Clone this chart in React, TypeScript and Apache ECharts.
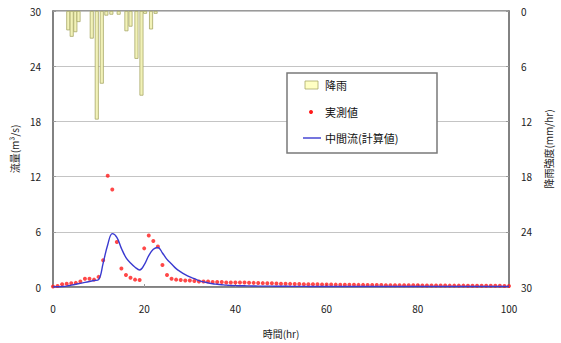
import React, { useEffect, useRef } from "react";
import * as echarts from "echarts";

const hours: number[] = Array.from({ length: 101 }, (_, i) => i);

const rainX: number[] = [3.35, 4.1, 4.9, 5.6, 8.5, 9.6, 10.7, 11.7, 12.8, 14.4, 16.1, 17.0, 18.3, 19.4, 20.2, 21.5, 22.5];
const rainY: number[] = [2.1, 2.8, 2.3, 1.2, 3.0, 11.8, 7.9, 0.5, 0.4, 0.4, 2.2, 1.7, 5.2, 9.2, 0.3, 2.0, 0.3];

const observed: number[] = [
  0.05, 0.1, 0.3, 0.35, 0.4, 0.45, 0.6, 0.9, 0.9, 0.8,
  1.1, 2.9, 12.1, 10.6, 4.9, 2.0, 1.3, 1.0, 0.8, 0.75,
  4.2, 5.6, 5.0, 4.4, 2.4, 1.3, 0.9, 0.8, 0.75, 0.7,
  0.7, 0.65, 0.6, 0.6, 0.6, 0.55, 0.55, 0.55, 0.5, 0.5,
  0.5, 0.5, 0.48, 0.46, 0.45, 0.44, 0.42, 0.4, 0.4, 0.38,
  0.36, 0.35, 0.34, 0.33, 0.32, 0.31, 0.3, 0.3, 0.29, 0.28,
  0.27, 0.27, 0.26, 0.25, 0.25, 0.24, 0.24, 0.23, 0.23, 0.22,
  0.22, 0.21, 0.21, 0.2, 0.2, 0.2, 0.19, 0.19, 0.18, 0.18,
  0.18, 0.17, 0.17, 0.17, 0.16, 0.16, 0.16, 0.15, 0.15, 0.15,
  0.15, 0.14, 0.14, 0.14, 0.14, 0.13, 0.13, 0.13, 0.13, 0.12,
  0.12,
];

const interflow: number[] = [
  0, 0.02, 0.05, 0.1, 0.2, 0.3, 0.4, 0.5, 0.6, 0.7,
  0.8, 2.6, 4.6, 5.8, 5.4, 4.2, 3.2, 2.6, 2.15, 1.85,
  2.4, 3.4, 4.1, 4.3, 3.7, 3.0, 2.5, 2.0, 1.65, 1.35,
  1.1, 0.9, 0.7, 0.55, 0.45, 0.35, 0.3, 0.25, 0.2, 0.17,
  0.15, 0.14, 0.13, 0.12, 0.11, 0.1, 0.1, 0.09, 0.09, 0.08,
  0.08, 0.08, 0.07, 0.07, 0.07, 0.07, 0.06, 0.06, 0.06, 0.06,
  0.06, 0.06, 0.05, 0.05, 0.05, 0.05, 0.05, 0.05, 0.05, 0.05,
  0.05, 0.05, 0.05, 0.05, 0.05, 0.05, 0.05, 0.05, 0.05, 0.05,
  0.05, 0.05, 0.05, 0.05, 0.05, 0.05, 0.05, 0.05, 0.05, 0.05,
  0.05, 0.05, 0.05, 0.05, 0.05, 0.05, 0.05, 0.05, 0.05, 0.05,
  0.05,
];

const FONT = "'Noto Sans CJK JP', 'Noto Sans', sans-serif";

export default function App() {
  const ref = useRef<HTMLDivElement>(null);
  useEffect(() => {
    if (!ref.current) return;
    const chart = echarts.init(ref.current, null, { renderer: "svg" });
    const axisLabel = { color: "#222", fontSize: 10, fontFamily: FONT };
    chart.setOption({
      animation: false,
      textStyle: { fontFamily: FONT },
      grid: {
        left: 53, right: 45, top: 11, bottom: 51,
        show: true, borderColor: "#7a7a7a", borderWidth: 1.5, backgroundColor: "#fff",
      },
      xAxis: {
        type: "value", min: 0, max: 100, interval: 20,
        name: "時間(hr)", nameLocation: "middle", nameGap: 41,
        nameTextStyle: { color: "#222", fontSize: 10, fontFamily: FONT },
        axisLine: { show: true, lineStyle: { color: "#7a7a7a", width: 1.5 } },
        axisTick: { show: true, inside: true, length: 3, lineStyle: { color: "#999" } },
        axisLabel: { ...axisLabel, margin: 16 },
        splitLine: { show: false },
      },
      yAxis: [
        {
          type: "value", min: 0, max: 30, interval: 6,
          name: "流量(m³/s)", nameLocation: "middle", nameGap: 32, nameRotate: 90,
          nameTextStyle: { color: "#222", fontSize: 10, fontFamily: FONT },
          axisLine: { show: true, lineStyle: { color: "#7a7a7a", width: 1.5 } },
          axisTick: { show: true, inside: true, length: 3, lineStyle: { color: "#999" } },
          axisLabel: { ...axisLabel, margin: 12 },
          splitLine: { show: true, lineStyle: { color: "#c4c4c4", width: 1.2 } },
        },
        {
          type: "value", min: 0, max: 30, interval: 6, inverse: true, position: "right",
          name: "降雨強度(mm/hr)", nameLocation: "middle", nameGap: 30, nameRotate: 90,
          nameTextStyle: { color: "#222", fontSize: 10, fontFamily: FONT },
          axisLine: { show: true, lineStyle: { color: "#7a7a7a", width: 1.5 } },
          axisTick: { show: true, inside: true, length: 3, lineStyle: { color: "#999" } },
          axisLabel: { ...axisLabel, margin: 12 },
          splitLine: { show: false },
        },
      ],
      series: [
        {
          name: "降雨", type: "bar", yAxisIndex: 1, barWidth: 4,
          data: rainX.map((x, i) => [x, rainY[i]]),
          itemStyle: { color: "#f2f2b8", borderColor: "#a8a868", borderWidth: 0.8 },
        },
        {
          name: "中間流(計算値)", type: "line", yAxisIndex: 0, smooth: 0.4, symbol: "none",
          data: hours.map((h, i) => [h, interflow[i]]),
          lineStyle: { color: "#3a3ad0", width: 1.4 },
        },
        {
          name: "実測値", type: "scatter", yAxisIndex: 0, symbolSize: 4,
          data: hours.map((h, i) => [h, observed[i]]),
          itemStyle: { color: "#ff1a1a" },
        },
      ],
      graphic: [
        { type: "rect", shape: { x: 287, y: 73, width: 150, height: 80 }, style: { fill: "#fff", stroke: "#7a7a7a", lineWidth: 1.5 }, z: 10 },
        { type: "rect", shape: { x: 305, y: 81, width: 13, height: 8 }, style: { fill: "#ffffc4", stroke: "#a8a868", lineWidth: 0.8 }, z: 11 },
        { type: "text", x: 325, y: 85, style: { text: "降雨", fill: "#111", fontSize: 11, fontFamily: FONT, verticalAlign: "middle" }, z: 11 },
        { type: "circle", shape: { cx: 311, cy: 112, r: 2 }, style: { fill: "#ff1a1a" }, z: 11 },
        { type: "text", x: 325, y: 112, style: { text: "実測値", fill: "#111", fontSize: 11, fontFamily: FONT, verticalAlign: "middle" }, z: 11 },
        { type: "line", shape: { x1: 303, y1: 138, x2: 321, y2: 138 }, style: { stroke: "#3a3ad0", lineWidth: 1.4 }, z: 11 },
        { type: "text", x: 325, y: 138, style: { text: "中間流(計算値)", fill: "#111", fontSize: 11, fontFamily: FONT, verticalAlign: "middle" }, z: 11 },
      ],
    });
    return () => chart.dispose();
  }, []);
  return <div ref={ref} style={{ width: 561, height: 343, position: "absolute", left: 0, top: 0 }} />;
}
